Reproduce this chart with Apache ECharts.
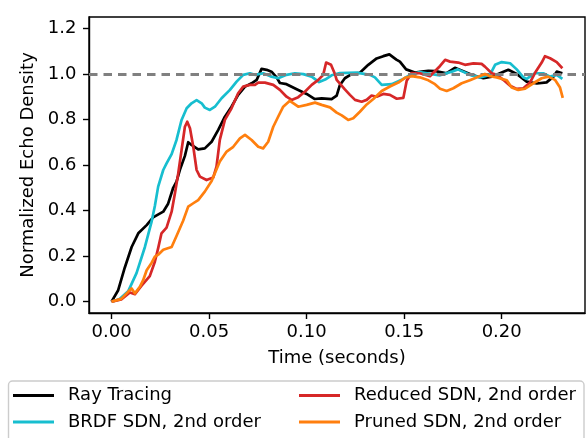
<!DOCTYPE html>
<html>
<head>
<meta charset="utf-8">
<script src="https://cdn.jsdelivr.net/npm/echarts@6/dist/echarts.min.js"></script>
<style>
html,body{margin:0;padding:0;background:#fff;}
#chart{width:586px;height:438px;}
</style>
</head>
<body>
<div id="chart"></div>
<script>
const seriesNames = ['Ray Tracing', 'BRDF SDN, 2nd order', 'Reduced SDN, 2nd order', 'Pruned SDN, 2nd order'];
const xTicks = [0, 0.05, 0.10, 0.15, 0.20];
const yTicks = [0, 0.2, 0.4, 0.6, 0.8, 1.0, 1.2];
const referenceLevel = 1.0;

const rayT = [0,0.0034,0.0068,0.0103,0.0137,0.018,0.0213,0.0265,0.029,0.0316,0.0333,0.035,0.0376,0.0393,0.041,0.0444,0.0478,0.0513,0.0547,0.0581,0.0615,0.0649,0.0684,0.0718,0.0744,0.0769,0.0795,0.082,0.0846,0.0863,0.0897,0.0949,0.1,0.104,0.1077,0.1128,0.1154,0.117,0.1196,0.123,0.1273,0.1316,0.1359,0.1393,0.1424,0.146,0.1478,0.151,0.1555,0.159,0.1624,0.166,0.1718,0.176,0.1846,0.1906,0.1949,0.2,0.2034,0.2077,0.2128,0.218,0.223,0.2265,0.2282,0.2311];
const rayV = [0,0.05,0.15,0.24,0.30,0.336,0.37,0.395,0.43,0.50,0.527,0.578,0.64,0.70,0.688,0.669,0.673,0.702,0.754,0.812,0.856,0.908,0.944,0.959,0.974,1.022,1.018,1.01,0.985,0.96,0.955,0.933,0.912,0.89,0.893,0.889,0.905,0.95,0.981,0.999,1.005,1.04,1.068,1.078,1.086,1.063,1.054,1.02,1.006,1.01,1.014,1.012,1.003,1.027,0.996,0.981,0.988,1.006,1.018,1.0,0.966,0.958,0.963,0.988,1.01,1.003];

const brdfT = [0,0.004,0.0085,0.0128,0.0171,0.0205,0.0222,0.0239,0.0265,0.0282,0.0308,0.0333,0.0359,0.0385,0.041,0.0436,0.0462,0.0478,0.0504,0.053,0.0564,0.0607,0.0641,0.0675,0.0709,0.0735,0.0778,0.082,0.0854,0.0897,0.094,0.0983,0.1026,0.1064,0.1095,0.1128,0.117,0.1256,0.1325,0.135,0.1385,0.1436,0.1487,0.153,0.158,0.1632,0.1684,0.1744,0.1775,0.1837,0.1889,0.194,0.1966,0.2,0.2043,0.2077,0.2111,0.2128,0.2171,0.2213,0.2248,0.2282,0.2311];
const brdfV = [0,0.01,0.045,0.125,0.24,0.35,0.42,0.505,0.578,0.607,0.648,0.71,0.798,0.849,0.871,0.885,0.871,0.852,0.842,0.856,0.893,0.93,0.966,0.996,1.003,0.996,1.003,0.988,0.981,0.996,1.003,0.999,0.988,0.964,0.975,0.994,1.004,1.006,0.996,0.985,0.952,0.955,0.974,0.996,1.008,1.0,0.994,1.01,1.02,0.996,0.985,0.996,1.04,1.052,1.047,1.02,0.985,0.978,1.003,1.003,0.988,0.996,0.978];

const reducedT = [0,0.005,0.0094,0.012,0.0154,0.0196,0.0222,0.0239,0.0256,0.0282,0.0308,0.0325,0.0342,0.0359,0.0376,0.0388,0.0402,0.0419,0.0436,0.0453,0.0487,0.0521,0.0538,0.0555,0.0581,0.0615,0.0649,0.0675,0.0709,0.0735,0.0752,0.0786,0.0829,0.0863,0.0897,0.0923,0.0957,0.0991,0.1026,0.106,0.1085,0.11,0.1125,0.1145,0.1154,0.1196,0.1222,0.1248,0.1282,0.1308,0.1333,0.1359,0.1393,0.1427,0.1462,0.1496,0.1513,0.1538,0.158,0.1632,0.1684,0.171,0.1735,0.1777,0.1812,0.1855,0.1897,0.1914,0.1949,0.1975,0.2008,0.2043,0.2077,0.2111,0.2145,0.2171,0.2205,0.2222,0.2248,0.2282,0.2311];
const reducedV = [0,0.01,0.04,0.033,0.07,0.112,0.175,0.235,0.3,0.325,0.395,0.476,0.564,0.666,0.768,0.79,0.761,0.68,0.578,0.549,0.534,0.545,0.593,0.71,0.798,0.849,0.915,0.944,0.952,0.952,0.962,0.962,0.952,0.93,0.9,0.886,0.898,0.922,0.952,0.974,0.996,1.05,1.04,1.0,0.974,0.932,0.908,0.886,0.878,0.886,0.905,0.9,0.912,0.908,0.891,0.895,0.97,1.004,1.003,0.99,1.035,1.062,1.054,1.05,1.04,1.046,1.044,1.032,1.003,0.996,0.974,0.948,0.934,0.937,0.962,1.005,1.05,1.078,1.069,1.052,1.025];

const prunedT = [0,0.005,0.0085,0.0103,0.012,0.0145,0.0162,0.018,0.0205,0.0222,0.0239,0.0265,0.0308,0.0333,0.0367,0.0393,0.0419,0.0444,0.0478,0.0513,0.0555,0.059,0.0624,0.0658,0.0684,0.0718,0.0752,0.0777,0.0803,0.0829,0.0854,0.088,0.0914,0.0957,0.1,0.1043,0.1077,0.112,0.1154,0.118,0.1213,0.1239,0.1273,0.1308,0.1342,0.1385,0.1427,0.147,0.1504,0.1538,0.158,0.1624,0.1658,0.1684,0.1718,0.1752,0.1795,0.1837,0.188,0.1914,0.194,0.1974,0.2026,0.2051,0.2085,0.212,0.2162,0.2205,0.2239,0.2273,0.2299,0.2313];
const prunedV = [0,0.012,0.043,0.058,0.036,0.065,0.094,0.138,0.17,0.197,0.206,0.228,0.24,0.288,0.355,0.417,0.432,0.446,0.483,0.53,0.615,0.659,0.68,0.717,0.732,0.71,0.68,0.673,0.702,0.768,0.812,0.856,0.882,0.856,0.864,0.874,0.864,0.853,0.83,0.818,0.798,0.805,0.834,0.866,0.89,0.925,0.945,0.962,0.983,0.99,0.985,0.972,0.955,0.935,0.925,0.937,0.959,0.972,0.988,1.0,0.99,0.985,0.972,0.94,0.93,0.935,0.959,0.981,0.988,0.974,0.94,0.895];

const colors = ['#000000', '#17becf', '#d62728', '#ff7f0e'];
const FONT = 'DejaVu Sans';
const FS = 18;

function pairs(t, v) { return t.map((x, i) => [x, v[i]]); }
const allData = [pairs(rayT, rayV), pairs(brdfT, brdfV), pairs(reducedT, reducedV), pairs(prunedT, prunedV)];

const series = seriesNames.map((name, i) => ({
  name: name,
  type: 'line',
  data: allData[i],
  symbol: 'none',
  showSymbol: false,
  color: colors[i],
  lineStyle: { width: 2.7, color: colors[i], join: 'round' },
  z: 2 + i,
  animation: false,
  emphasis: { disabled: true }
}));
series.push({
  name: '_ref',
  type: 'line',
  data: [],
  z: 10,
  markLine: {
    silent: true,
    symbol: ['none', 'none'],
    label: { show: false },
    animation: false,
    lineStyle: { color: '#808080', width: 3, type: [8.5, 6] },
    emphasis: { disabled: true },
    data: [{ yAxis: referenceLevel }]
  }
});

const chart = echarts.init(document.getElementById('chart'), null, { renderer: 'canvas' });
const legendCommon = {
  orient: 'vertical',
  top: 385.5,
  padding: 0,
  itemWidth: 41,
  itemHeight: 3,
  itemGap: 6.6,
  icon: 'rect',
  selectedMode: false,
  textStyle: { fontFamily: FONT, fontSize: FS, color: '#000', lineHeight: 20, padding: [0, 0, 0, 9] }
};
chart.setOption({
  animation: false,
  backgroundColor: '#fff',
  textStyle: { fontFamily: FONT },
  graphic: [{
    type: 'rect',
    z: -1,
    shape: { x: 8.5, y: 381, width: 575.5, height: 70, r: 4 },
    style: { fill: '#fff', stroke: '#cccccc', lineWidth: 1.4 }
  }],
  grid: {
    left: 89, right: 1, top: 17, bottom: 125,
    show: true, borderColor: '#000', borderWidth: 1.4, backgroundColor: 'transparent'
  },
  legend: [
    Object.assign({}, legendCommon, { left: 13, data: seriesNames.slice(0, 2) }),
    Object.assign({}, legendCommon, { left: 299, data: seriesNames.slice(2, 4) })
  ],
  xAxis: {
    type: 'value',
    min: -0.01156,
    max: 0.2427,
    name: 'Time (seconds)',
    nameLocation: 'middle',
    nameGap: 36,
    nameTextStyle: { fontFamily: FONT, fontSize: FS, color: '#000' },
    axisLine: { show: true, onZero: false, lineStyle: { color: '#000', width: 1.4 } },
    axisTick: { show: true, inside: false, length: 6, customValues: xTicks, lineStyle: { color: '#000', width: 1.4 } },
    axisLabel: { show: true, margin: 10, customValues: xTicks, fontFamily: FONT, fontSize: FS, color: '#000',
      formatter: v => v.toFixed(2) },
    splitLine: { show: false }
  },
  yAxis: {
    type: 'value',
    min: -0.05,
    max: 1.25,
    name: 'Normalized Echo Density',
    nameLocation: 'middle',
    nameRotate: 90,
    nameGap: 48,
    nameTextStyle: { fontFamily: FONT, fontSize: FS, color: '#000' },
    axisLine: { show: true, onZero: false, lineStyle: { color: '#000', width: 1.4 } },
    axisTick: { show: true, inside: false, length: 6, customValues: yTicks, lineStyle: { color: '#000', width: 1.4 } },
    axisLabel: { show: true, margin: 12.5, customValues: yTicks, fontFamily: FONT, fontSize: FS, color: '#000',
      formatter: v => v.toFixed(1) },
    splitLine: { show: false }
  },
  series: series
});
</script>
</body>
</html>
